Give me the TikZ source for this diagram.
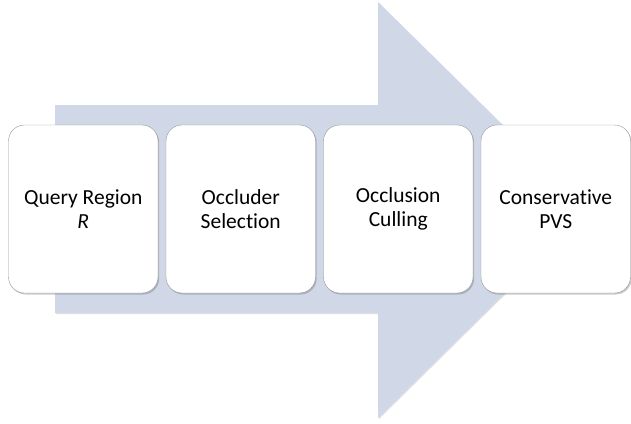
\documentclass[tikz,border=0pt]{standalone}
\usepackage{fontspec}
\setmainfont[Ligatures=NoCommon]{Carlito}
\usetikzlibrary{shadows}
\definecolor{flowblue}{RGB}{208,216,231}
\definecolor{boxline}{RGB}{150,150,150}
\tikzset{
	stagebox/.style={draw=boxline, fill=white, rounded corners=16pt, minimum width=149.5pt, minimum height=168pt,
		align=center, font=\fontsize{21.5}{24.5}\selectfont, inner sep=0pt,
		drop shadow={shadow xshift=1.2pt, shadow yshift=-1.5pt, opacity=0.35, fill=black!60}}
}
\begin{document}
\begin{tikzpicture}[x=1pt, y=-1pt]
		\useasboundingbox (0,0) rectangle (631,423);
		% big arrow behind the stages
		\fill[flowblue, drop shadow={shadow xshift=1pt, shadow yshift=-1pt, opacity=0.25}]
			(55,105) -- (378,105) -- (378,2) -- (589,210) -- (378,418) -- (378,313) -- (55,313) -- cycle;
		
		\foreach \i/\xc/\txt in {1/83.25/{Query Region\\\textit{R}}, 2/240.75/{Occluder\\Selection},
			3/398.25/{Occlusion\\Culling}, 4/555.75/{Conservative\\PVS}}{
			\node[stagebox] (stage\i) at (\xc,209) {\txt};
		}
	\end{tikzpicture}
\end{document}
